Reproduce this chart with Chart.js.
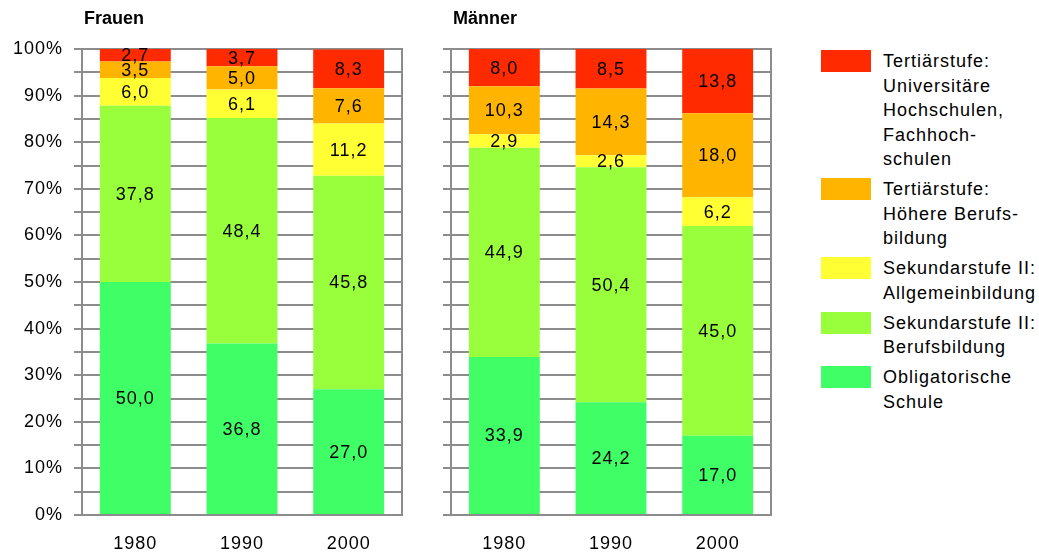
<!DOCTYPE html>
<html lang="de">
<head>
<meta charset="utf-8">
<title>Bildungsstand nach Geschlecht</title>
<script src="https://cdn.jsdelivr.net/npm/chart.js@4"></script>
<style>
  html, body { margin: 0; padding: 0; background: #fff; }
  body { width: 1039px; height: 556px; position: relative; overflow: hidden;
         font-family: "Liberation Sans", Arial, sans-serif; }
  canvas { position: absolute; top: 0; display: block; }
  #frauenChart { left: 0; }
  #maennerChart { left: 430px; }
  #legend { position: absolute; left: 821px; top: 49px; width: 218px; }
  .legend-item { position: relative; padding-left: 62px; margin-bottom: 5.5px;
                 font-size: 18px; line-height: 24.5px; letter-spacing: 1px; color: #000; }
  .legend-box { position: absolute; left: 0; top: 1px; width: 50px; height: 22px; }
</style>
</head>
<body>
<canvas id="frauenChart" width="420" height="556"></canvas>
<canvas id="maennerChart" width="350" height="556"></canvas>
<div id="legend"></div>

<script>
// Jahre auf der x-Achse
const years = ['1980', '1990', '2000'];

// Reihen von unten nach oben gestapelt
const seriesNames = [
  'Obligatorische Schule',
  'Sekundarstufe II: Berufsbildung',
  'Sekundarstufe II: Allgemeinbildung',
  'Tertiärstufe: Höhere Berufsbildung',
  'Tertiärstufe: Universitäre Hochschulen, Fachhochschulen'
];
// Legendentext mit den Zeilenumbrüchen
const legendLines = [
  ['Obligatorische', 'Schule'],
  ['Sekundarstufe II:', 'Berufsbildung'],
  ['Sekundarstufe II:', 'Allgemeinbildung'],
  ['Tertiärstufe:', 'Höhere Berufs-', 'bildung'],
  ['Tertiärstufe:', 'Universitäre', 'Hochschulen,', 'Fachhoch-', 'schulen']
];
const seriesColors = ['#40ff66', '#99ff3c', '#ffff33', '#ffb400', '#ff2a00'];

// Frauen, Anteile in %
const frauenObligatorisch = [50.0, 36.8, 27.0];
const frauenBerufsbildung = [37.8, 48.4, 45.8];
const frauenAllgemeinbildung = [6.0, 6.1, 11.2];
const frauenHoehereBB = [3.5, 5.0, 7.6];
const frauenHochschulen = [2.7, 3.7, 8.3];

// Männer, Anteile in %
const maennerObligatorisch = [33.9, 24.2, 17.0];
const maennerBerufsbildung = [44.9, 50.4, 45.0];
const maennerAllgemeinbildung = [2.9, 2.6, 6.2];
const maennerHoehereBB = [10.3, 14.3, 18.0];
const maennerHochschulen = [8.0, 8.5, 13.8];

const FONT = '"Liberation Sans", Arial, sans-serif';
const GRID = '#8c8c8c';

// Werte mittig in jedes Segment schreiben
const valueLabels = {
  id: 'valueLabels',
  afterDatasetsDraw(chart) {
    const ctx = chart.ctx;
    ctx.save();
    ctx.font = '18px ' + FONT;
    ctx.letterSpacing = '1px';
    ctx.fillStyle = '#000';
    ctx.textAlign = 'center';
    ctx.textBaseline = 'middle';
    chart.data.datasets.forEach((ds, i) => {
      chart.getDatasetMeta(i).data.forEach((bar, j) => {
        const txt = ds.data[j].toFixed(1).replace('.', ',');
        ctx.fillText(txt, bar.x, (bar.y + bar.base) / 2 + 1);
      });
    });
    ctx.restore();
  }
};

// Titel über der linken Kante des Plotbereichs
const panelTitle = {
  id: 'panelTitle',
  beforeDraw(chart, args, opts) {
    const ctx = chart.ctx;
    ctx.letterSpacing = '1px';
    ctx.save();
    ctx.letterSpacing = '0px';
    ctx.font = 'bold 18px ' + FONT;
    ctx.fillStyle = '#000';
    ctx.textAlign = 'left';
    ctx.textBaseline = 'middle';
    ctx.fillText(opts.text, chart.chartArea.left + 2, 19);
    ctx.restore();
  }
};

function makeDatasets(values) {
  return values.map((data, i) => ({
    label: seriesNames[i],
    data: data,
    backgroundColor: seriesColors[i],
    borderWidth: 0,
    barPercentage: 0.665,
    categoryPercentage: 1
  }));
}

function makeChart(canvasId, title, values, axisWidth, showLabels, padRight) {
  const ctx = document.getElementById(canvasId).getContext('2d');
  return new Chart(ctx, {
    type: 'bar',
    data: { labels: years, datasets: makeDatasets(values) },
    options: {
      responsive: false,
      animation: false,
      devicePixelRatio: 1,
      layout: { padding: { top: 49, right: padRight, bottom: 0, left: 0 } },
      plugins: {
        legend: { display: false },
        tooltip: { enabled: false },
        panelTitle: { text: title }
      },
      scales: {
        x: {
          stacked: true,
          afterFit(scale) { scale.height = 41; },
          grid: { display: false },
          border: { display: false },
          ticks: { color: '#000', padding: 10, font: { family: FONT, size: 18 } }
        },
        y: {
          stacked: true,
          min: 0,
          max: 100,
          afterFit(scale) { scale.width = axisWidth; },
          grid: { color: GRID, lineWidth: 2, tickLength: 8 },
          border: { color: GRID, width: 2 },
          ticks: {
            stepSize: 5,
            autoSkip: false,
            padding: 11,
            color: '#000',
            font: { family: FONT, size: 18 },
            callback: v => (showLabels && v % 10 === 0) ? v + '%' : ''
          }
        },
        yRight: {
          position: 'right',
          min: 0,
          max: 100,
          afterFit(scale) { scale.width = 0; },
          grid: { display: false },
          ticks: { display: false },
          border: { color: GRID, width: 2 }
        }
      }
    },
    plugins: [panelTitle, valueLabels]
  });
}

makeChart('frauenChart', 'Frauen',
  [frauenObligatorisch, frauenBerufsbildung, frauenAllgemeinbildung, frauenHoehereBB, frauenHochschulen],
  82, true, 18);
makeChart('maennerChart', 'Männer',
  [maennerObligatorisch, maennerBerufsbildung, maennerAllgemeinbildung, maennerHoehereBB, maennerHochschulen],
  21, false, 9);

// Legende rechts, oberste Reihe zuerst
const legendEl = document.getElementById('legend');
for (let i = seriesNames.length - 1; i >= 0; i--) {
  const item = document.createElement('div');
  item.className = 'legend-item';
  const box = document.createElement('span');
  box.className = 'legend-box';
  box.style.backgroundColor = seriesColors[i];
  item.appendChild(box);
  legendLines[i].forEach(line => {
    const div = document.createElement('div');
    div.textContent = line;
    item.appendChild(div);
  });
  legendEl.appendChild(item);
}
</script>
</body>
</html>
